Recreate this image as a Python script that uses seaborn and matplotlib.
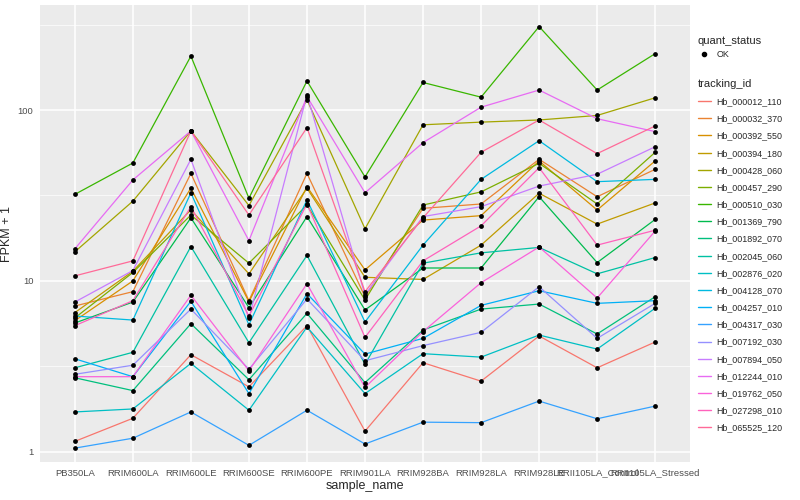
import numpy as np
import pandas as pd
import matplotlib
matplotlib.use('Agg')
import matplotlib.pyplot as plt
from matplotlib.lines import Line2D
from matplotlib.ticker import FixedLocator, NullFormatter
import seaborn as sns

samples = ['PB350LA', 'RRIM600LA', 'RRIM600LE', 'RRIM600SE', 'RRIM600PE', 'RRIM901LA',
           'RRIM928BA', 'RRIM928LA', 'RRIM928LE', 'RRII105LA_Control', 'RRII105LA_Stressed']

# FPKM + 1 per gene, one value per sample
Hb_000012_110 = [1.15, 1.57, 3.70, 2.40, 5.47, 1.32, 3.32, 2.59, 4.76, 3.10, 4.39]
Hb_000032_370 = [7.13, 8.65, 42.6, 7.66, 42.6, 8.08, 26.6, 28.2, 51.5, 31.1, 45.0]
Hb_000392_550 = [5.85, 10.0, 34.9, 7.55, 35.6, 11.6, 22.7, 24.1, 50.4, 26.0, 50.4]
Hb_000394_180 = [6.52, 11.4, 26.1, 11.0, 34.9, 10.5, 10.2, 16.2, 32.6, 21.5, 28.6]
Hb_000428_060 = [14.8, 29.3, 75.5, 27.6, 115, 20.2, 82.0, 85.0, 87.5, 93.0, 118]
Hb_000457_290 = [6.07, 11.2, 24.3, 12.7, 27.8, 7.73, 27.8, 33.2, 48.8, 28.2, 56.6]
Hb_000510_030 = [32.1, 49.0, 207, 30.5, 148, 40.6, 145, 119, 308, 131, 214]
Hb_001369_790 = [5.67, 7.52, 23.4, 6.97, 23.8, 6.76, 11.9, 11.9, 31.1, 12.8, 22.9]
Hb_001892_070 = [2.71, 2.28, 5.62, 2.64, 6.46, 2.54, 5.16, 6.84, 7.32, 4.89, 8.08]
Hb_002045_060 = [3.10, 3.82, 15.9, 4.35, 14.1, 3.25, 12.7, 14.6, 15.7, 11.0, 13.7]
Hb_002876_020 = [1.71, 1.78, 3.29, 1.75, 5.37, 2.19, 3.75, 3.58, 4.82, 3.99, 6.92]
Hb_004128_070 = [6.23, 5.90, 32.8, 5.54, 29.8, 5.75, 16.2, 39.3, 66.2, 38.1, 39.3]
Hb_004257_010 = [3.50, 2.75, 7.60, 2.19, 8.42, 3.73, 4.61, 7.19, 8.76, 7.39, 7.66]
Hb_004317_030 = [1.05, 1.20, 1.71, 1.09, 1.75, 1.11, 1.49, 1.48, 1.98, 1.56, 1.85]
Hb_007192_030 = [2.84, 3.21, 6.84, 3.04, 7.84, 3.41, 4.18, 5.00, 9.25, 4.61, 7.39]
Hb_007894_050 = [7.52, 11.5, 51.5, 6.04, 123, 8.27, 23.8, 27.2, 35.9, 42.1, 61.0]
Hb_012244_010 = [15.4, 39.0, 75.5, 17.2, 120, 32.8, 64.5, 104, 131, 89.0, 74.8]
Hb_019762_050 = [2.75, 2.75, 8.24, 2.98, 9.63, 2.38, 5.05, 9.76, 15.8, 7.94, 19.6]
Hb_027298_010 = [5.47, 7.66, 27.2, 6.23, 28.2, 4.67, 13.1, 21.0, 46.0, 16.2, 19.8]
Hb_065525_120 = [10.7, 13.1, 75.5, 24.3, 78.9, 8.65, 23.4, 56.6, 87.5, 55.6, 80.7]

genes = {
    'Hb_000012_110': Hb_000012_110, 'Hb_000032_370': Hb_000032_370,
    'Hb_000392_550': Hb_000392_550, 'Hb_000394_180': Hb_000394_180,
    'Hb_000428_060': Hb_000428_060, 'Hb_000457_290': Hb_000457_290,
    'Hb_000510_030': Hb_000510_030, 'Hb_001369_790': Hb_001369_790,
    'Hb_001892_070': Hb_001892_070, 'Hb_002045_060': Hb_002045_060,
    'Hb_002876_020': Hb_002876_020, 'Hb_004128_070': Hb_004128_070,
    'Hb_004257_010': Hb_004257_010, 'Hb_004317_030': Hb_004317_030,
    'Hb_007192_030': Hb_007192_030, 'Hb_007894_050': Hb_007894_050,
    'Hb_012244_010': Hb_012244_010, 'Hb_019762_050': Hb_019762_050,
    'Hb_027298_010': Hb_027298_010, 'Hb_065525_120': Hb_065525_120,
}

# ggplot2 default hue palette, 20 levels
colors = ['#F8766D', '#EA8331', '#D89000', '#C09B00', '#A3A500', '#7CAE00', '#39B600',
          '#00BB4E', '#00BF7D', '#00C1A3', '#00BFC4', '#00BAE0', '#00B0F6', '#35A2FF',
          '#9590FF', '#C77CFF', '#E76BF3', '#FA62DB', '#FF62BC', '#FF6A98']

rows = []
for g, vals in genes.items():
    for i, v in enumerate(vals):
        rows.append({'tracking_id': g, 'pos': i, 'sample_name': samples[i], 'fpkm': v})
df = pd.DataFrame(rows)

sns.set_style('white')
plt.rcParams['font.family'] = ['Liberation Sans', 'DejaVu Sans']

fig = plt.figure(figsize=(8, 5), dpi=100)
ax = fig.add_axes([0.05, 0.076, 0.8125, 0.914])
ax.set_facecolor('#EBEBEB')

sns.lineplot(data=df, x='pos', y='fpkm', hue='tracking_id', palette=colors,
             linewidth=0.9, legend=False, ax=ax, zorder=3)
sns.scatterplot(data=df, x='pos', y='fpkm', color='black', s=12, linewidth=0,
                legend=False, ax=ax, zorder=4)

ax.set_yscale('log')
ax.set_ylim(10 ** -0.06, 10 ** 2.615)
ax.set_xlim(-0.6, 10.6)
ax.yaxis.set_major_locator(FixedLocator([1, 10, 100]))
ax.set_yticklabels(['1', '10', '100'])
ax.yaxis.set_minor_locator(FixedLocator([10 ** 0.5, 10 ** 1.5, 10 ** 2.5]))
ax.yaxis.set_minor_formatter(NullFormatter())
ax.set_xticks(range(len(samples)))
ax.set_xticklabels(samples)

ax.grid(True, which='major', color='white', linewidth=1.1, zorder=0)
ax.grid(True, which='minor', axis='y', color='white', linewidth=0.5, zorder=0)
ax.set_axisbelow(True)
for s in ax.spines.values():
    s.set_visible(False)
ax.tick_params(axis='both', which='major', length=2.75, width=0.6, color='#333333',
               labelsize=6.8, labelcolor='#4D4D4D', pad=2)
ax.tick_params(axis='both', which='minor', length=0)

ax.set_xlabel('sample_name', fontsize=9, labelpad=2)
ax.set_ylabel('FPKM + 1', fontsize=9)
ax.yaxis.set_label_coords(-0.042, 0.5)

h1 = [Line2D([], [], marker='o', color='black', linestyle='', markersize=3)]
leg1 = fig.legend(h1, ['OK'], title='quant_status', loc='upper left',
                  bbox_to_anchor=(0.862, 0.945), frameon=False, fontsize=6.4,
                  title_fontsize=8, handlelength=1.5, handletextpad=0.6)
leg1._legend_box.align = 'left'

h2 = [Line2D([], [], color=c, linewidth=1) for c in colors]
leg2 = fig.legend(h2, list(genes.keys()), title='tracking_id', loc='upper left',
                  bbox_to_anchor=(0.862, 0.858), frameon=False, fontsize=6.4,
                  title_fontsize=8, handlelength=1.5, handletextpad=0.6,
                  labelspacing=0.92)
leg2._legend_box.align = 'left'

fig.savefig('out.png', dpi=100)
